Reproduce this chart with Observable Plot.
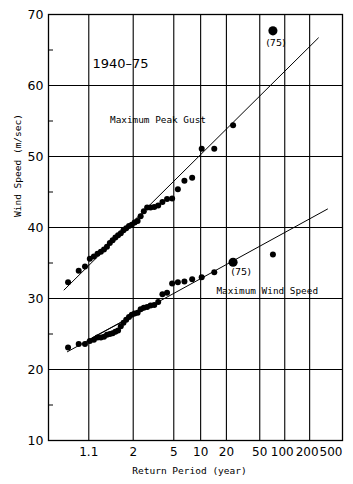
<!DOCTYPE html>
<html><head><meta charset="utf-8">
<script src="https://cdn.jsdelivr.net/npm/d3@7"></script>
<script src="https://cdn.jsdelivr.net/npm/@observablehq/plot@0.6"></script>
<style>body{margin:0;background:#fff}</style>
</head><body><div id="chart"></div>
<script>
// Annual maxima 1940-75, sorted ascending (m/sec)
const gustSpeeds = [32.3, 33.9, 34.5, 35.6, 35.9, 36.3, 36.6, 36.9, 37.3, 37.8, 38.2, 38.6, 38.9, 39.2, 39.6, 39.9, 40.2, 40.4, 40.7, 40.9, 41.6, 42.3, 42.8, 42.8, 42.9, 43.1, 43.6, 44.0, 44.1, 45.4, 46.6, 47.0, 51.1, 51.1, 54.4, 67.7];
const windSpeeds = [23.1, 23.6, 23.6, 24.0, 24.2, 24.5, 24.5, 24.6, 24.9, 25.0, 25.1, 25.3, 25.5, 26.1, 26.6, 27.0, 27.4, 27.7, 27.9, 28.0, 28.5, 28.7, 28.8, 29.0, 29.1, 29.5, 30.6, 30.8, 32.1, 32.3, 32.4, 32.7, 33.0, 33.7, 35.1, 36.2];
const highlightRank = {gust: 36, wind: 35}; // the 1975 values
const tickPeriods = [1.1, 2, 5, 10, 20, 50, 100, 200, 500];
const tickLabels = ["1.1", "2", "5", "10", "20", "50", "100", "200", "500"];
const yTicks = [10, 20, 30, 40, 50, 60, 70];
const yMinorTicks = [15, 25, 35, 45, 55, 65];
// fitted lines (return period, speed) end points
const gustFit = [{T: 1.0084, V: 31.2}, {T: 255, V: 66.7}];
const windFit = [{T: 1.013, V: 22.5}, {T: 329, V: 42.6}];
const windFitShort = [{T: 1.130, V: 24.5}, {T: 1.585, V: 26.6}];
const notes = [
  {T: 1.593, V: 63.1, text: "1940–75", size: 13, font: "DejaVu Sans"},
  {T: 3.41, V: 55.1, text: "Maximum Peak Gust", size: 9.4, font: "DejaVu Sans Mono"},
  {T: 61.5, V: 31.0, text: "Maximum Wind Speed", size: 9.4, font: "DejaVu Sans Mono"}
];
const xTitle = ["Return Period (year)"];
const yTitle = ["Wind Speed (m/sec)"];

const g = T => -Math.log(-Math.log(1 - 1 / T)); // Gumbel reduced variate
const n = gustSpeeds.length;
const period = i => 1 / (1 - (i + 0.5) / n); // Hazen plotting position
const gust = gustSpeeds.map((V, i) => ({T: period(i), V, big: i + 1 === highlightRank.gust}));
const wind = windSpeeds.map((V, i) => ({T: period(i), V, big: i + 1 === highlightRank.wind}));
const xt = d => g(d.T);
const labelOf = T => tickLabels[tickPeriods.indexOf(T)];
const xAxisPart = (periods, opts) => Plot.axisX(periods.map(g), {tickSize: 0, tickPadding: 7, fontSize: 12, label: null,
  tickFormat: (d, i) => labelOf(periods[i]), ...opts});

const chart = Plot.plot({
  width: 353, height: 484,
  marginLeft: 48, marginTop: 14, marginRight: 11, marginBottom: 44,
  style: {background: "#fff", color: "#000", fontFamily: "DejaVu Sans"},
  x: {domain: [-2, g(500)]},
  y: {domain: [10, 70]},
  marks: [
    Plot.gridX(tickPeriods.slice(0, -1).map(g), {stroke: "#000", strokeOpacity: 1, strokeWidth: 1.1}),
    Plot.gridY(yTicks.slice(1, -1), {stroke: "#000", strokeOpacity: 1, strokeWidth: 1.1}),
    Plot.frame({stroke: "#000", strokeWidth: 1.3}),
    Plot.axisY(yTicks, {tickSize: 0, tickPadding: 5, fontSize: 12.5, label: null}),
    Plot.axisY(yMinorTicks, {tickSize: -5, tickFormat: () => "", label: null}),
    xAxisPart(tickPeriods.slice(0, 6), {}),
    xAxisPart(tickPeriods.slice(6, 8), {dx: -2.5}),
    xAxisPart(tickPeriods.slice(8), {textAnchor: "end"}),
    Plot.line(gustFit, {x: xt, y: "V", stroke: "#000", strokeWidth: 1}),
    Plot.line(windFit, {x: xt, y: "V", stroke: "#000", strokeWidth: 1}),
    Plot.line(windFitShort, {x: xt, y: "V", stroke: "#000", strokeWidth: 1}),
    Plot.dot(gust, {x: xt, y: "V", r: d => d.big ? 3.1 : 1.35, fill: "#000", stroke: "none"}),
    Plot.dot(wind, {x: xt, y: "V", r: d => d.big ? 3.1 : 1.35, fill: "#000", stroke: "none"}),
    Plot.text(gust.filter(d => d.big), {x: xt, y: "V", text: () => "(75)", dx: 3, dy: 12, fontSize: 9.5}),
    Plot.text(wind.filter(d => d.big), {x: xt, y: "V", text: () => "(75)", dx: 8, dy: 10, fontSize: 9.5}),
    ...notes.map(d => Plot.text([d], {x: xt, y: "V", text: "text", fontSize: d.size, fontFamily: d.font})),
    Plot.text(xTitle, {frameAnchor: "bottom", dx: -6, dy: 33, fontSize: 9.5, fontFamily: "DejaVu Sans Mono"}),
    Plot.text(yTitle, {frameAnchor: "left", rotate: -90, dx: -30.5, dy: -10.5, fontSize: 9.5, fontFamily: "DejaVu Sans Mono"})
  ]
});
document.getElementById("chart").appendChild(chart);
</script>
</body></html>
